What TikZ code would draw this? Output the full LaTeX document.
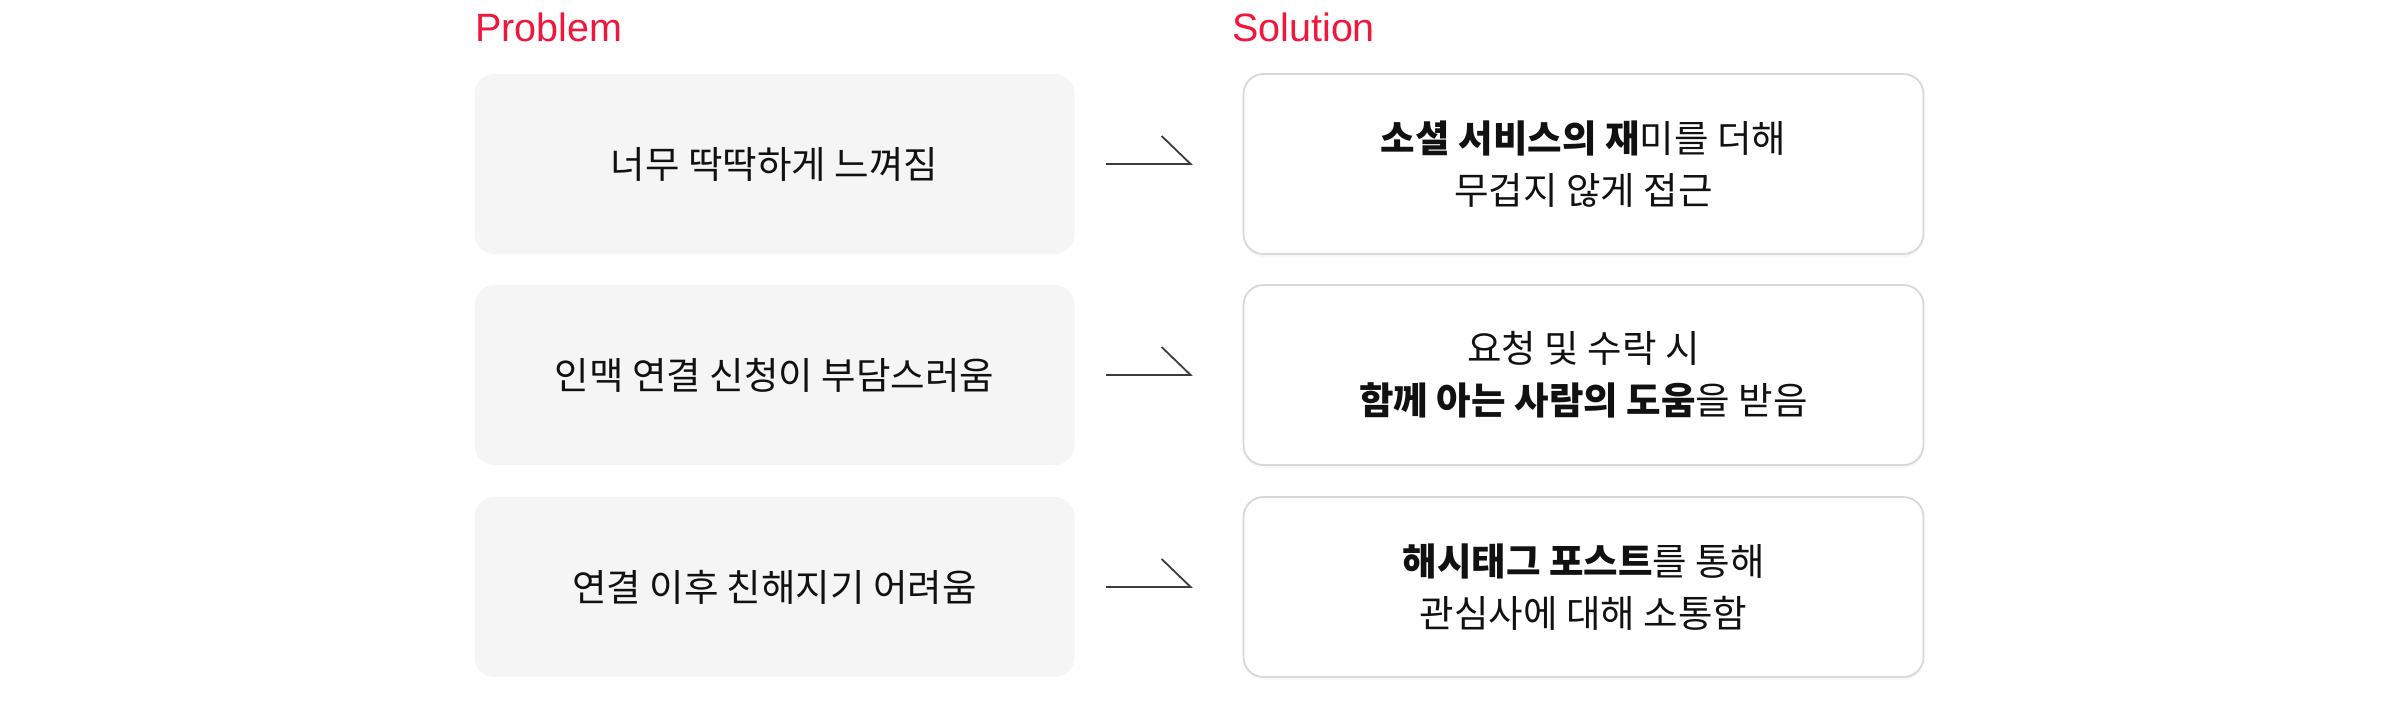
\documentclass[tikz,border=0pt]{standalone}
\usepackage{fontspec}
\setmainfont{Noto Sans CJK KR}
\newfontfamily\labfont{Liberation Sans}
\usetikzlibrary{shadows}
\definecolor{accent}{RGB}{240,22,60}
\definecolor{probfill}{RGB}{245,245,245}
\definecolor{solline}{RGB}{216,216,216}
\definecolor{arrowc}{RGB}{60,60,60}
\definecolor{txt}{RGB}{17,17,17}
\begin{document}
\begin{tikzpicture}[x=1pt,y=-1pt,
  probbox/.style={fill=probfill, rounded corners=20pt, minimum width=600pt, minimum height=180pt, inner sep=0pt, font=\fontsize{37.5}{52}\selectfont, text=txt, align=center},
  solbox/.style={fill=white, draw=solline, line width=1.8pt, rounded corners=20pt, minimum width=680pt, minimum height=180pt, inner sep=0pt, font=\fontsize{37.5}{52}\selectfont, text=txt, align=center, drop shadow={opacity=0.06, shadow xshift=0pt, shadow yshift=-3pt}},
  head/.style={font=\labfont\fontsize{39.5}{39.5}\selectfont, text=accent, anchor=base west, inner sep=0pt},
  conn/.style={draw=arrowc, line width=1.8pt}
]
\useasboundingbox (0,0) rectangle (2400,720);
\node[head] (ph) at (475,41) {Problem};
\node[head] (sh) at (1232,41) {Solution};
\node[probbox] (p1) at (774.5,164) {너무 딱딱하게 느껴짐};
\node[probbox] (p2) at (774.5,375) {인맥 연결 신청이 부담스러움};
\node[probbox] (p3) at (774.5,587) {연결 이후 친해지기 어려움};
\node[solbox] (s1) at (1583.5,164) {{\bfseries 소셜 서비스의 재}미를 더해\\무겁지 않게 접근};
\node[solbox] (s2) at (1583.5,375) {요청 및 수락 시\\{\bfseries 함께 아는 사람의 도움}을 받음};
\node[solbox] (s3) at (1583.5,587) {{\bfseries 해시태그 포스트}를 통해\\관심사에 대해 소통함};
\foreach \i in {1,2,3}{
  \coordinate (a\i s) at ([xshift=31.5pt]p\i.east);
  \coordinate (a\i e) at ([xshift=-52pt]s\i.west);
  \draw[conn] (a\i s) -- (a\i e) -- ++(-29,-28);
}
\end{tikzpicture}
\end{document}
